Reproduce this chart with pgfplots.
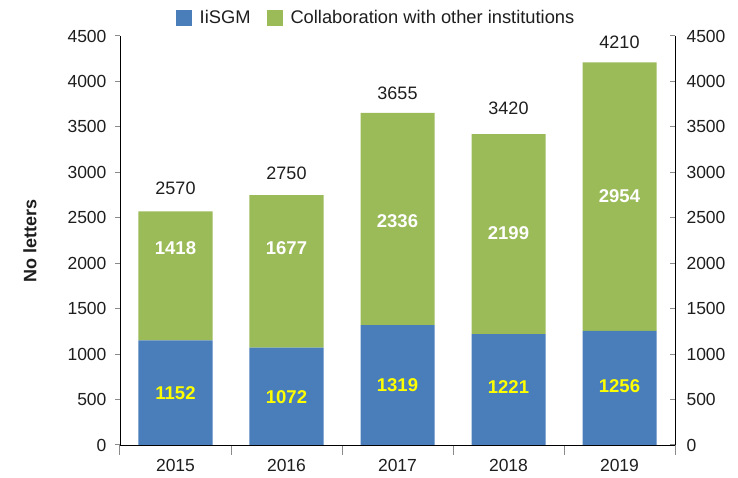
\documentclass[border=0pt]{standalone}
\usepackage{fontspec}
\setmainfont{Liberation Sans}
\usepackage{pgfplots}
\pgfplotsset{compat=1.18}
\definecolor{barblue}{HTML}{4A7EBB}
\definecolor{bargreen}{HTML}{9BBB59}
\definecolor{axgray}{HTML}{8A8A8A}
\definecolor{txt}{HTML}{1E1E1E}
\definecolor{lblyellow}{HTML}{FFFF00}

\begin{document}
\begin{tikzpicture}[font=\fontsize{17.5}{20}\selectfont]
  \begin{axis}[
    name=main,
    scale only axis, width=555pt, height=409pt,
    ybar stacked, bar width=74pt,
    xmin=-0.5, xmax=4.5, ymin=0, ymax=4500,
    axis x line*=bottom, axis y line*=left,
    xtick={0,...,4}, xticklabels={2015,2016,2017,2018,2019},
    major x tick style={draw=none},
    minor xtick={-0.5,0.5,1.5,2.5,3.5,4.5},
    minor tick length=10pt,
    ytick={0,500,...,4500},
    major tick length=5pt,
    tick align=outside,
    every axis line/.style={axgray, line width=1pt},
    tick style={axgray, line width=1pt},
    every tick label/.style={text=txt},
    yticklabel style={xshift=-5pt},
    xticklabel style={yshift=-6pt},
    /pgf/number format/assume math mode=true,
    /pgf/number format/set thousands separator={},
    ylabel={\bfseries No letters},
    every axis y label/.style={at={(rel axis cs:0,0.5)}, rotate=90,
      anchor=center, yshift=90pt, text=txt, font=\fontsize{18}{21}\selectfont},
    legend columns=-1,
    legend style={draw=none, fill=none, at={(0.1,1)}, anchor=west,
      yshift=18pt, inner sep=0pt, text=txt, font=\fontsize{18.3}{21}\selectfont,
      /tikz/every odd column/.append style={column sep=6pt},
      /tikz/every even column/.append style={column sep=14pt}},
    legend image code/.code={\fill[#1,draw=none] (0pt,-8pt) rectangle (16pt,8pt);},
  ]
    \addplot[fill=barblue, draw=none]
      coordinates {(0,1152) (1,1072) (2,1319) (3,1221) (4,1256)};
    \addplot[fill=bargreen, draw=none]
      coordinates {(0,1418) (1,1677) (2,2336) (3,2199) (4,2954)};
    \legend{IiSGM,Collaboration with other institutions}
    \coordinate (sw) at (rel axis cs:0,0);
    \coordinate (ne) at (rel axis cs:1,1);
  \end{axis}
  \begin{axis}[
    scale only axis, width=555pt, height=409pt,
    xmin=-0.5, xmax=4.5, ymin=0, ymax=4500,
    axis x line=none, axis y line*=right,
    ytick={0,500,...,4500},
    major tick length=5pt,
    tick align=inside,
    every axis line/.style={axgray, line width=1pt},
    tick style={axgray, line width=1pt},
    every tick label/.style={text=txt},
    yticklabel style={xshift=8pt},
    /pgf/number format/assume math mode=true,
    /pgf/number format/set thousands separator={},
  ]
    % IiSGM labels
    \addplot[draw=none, mark=none, nodes near coords, point meta=explicit symbolic,
      nodes near coords style={anchor=center, font=\fontsize{18.5}{21}\selectfont\bfseries, text=lblyellow}]
      coordinates {(0,572)[1152] (1,528)[1072] (2,660)[1319] (3,638)[1221] (4,649)[1256]};
    % collaboration labels
    \addplot[draw=none, mark=none, nodes near coords, point meta=explicit symbolic,
      nodes near coords style={anchor=center, font=\fontsize{18.5}{21}\selectfont\bfseries, text=white}]
      coordinates {(0,2167)[1418] (1,2167)[1677] (2,2464)[2336] (3,2332)[2199] (4,2739)[2954]};
    % totals
    \addplot[draw=none, mark=none, nodes near coords, point meta=explicit symbolic,
      nodes near coords style={anchor=center, font=\fontsize{18}{20}\selectfont, text=txt}]
      coordinates {(0,2827)[2570] (1,2992)[2750] (2,3872)[3655] (3,3707)[3420] (4,4433)[4210]};
  \end{axis}
  \pgfresetboundingbox
  \path ([xshift=-120pt,yshift=-33pt]sw) rectangle ([xshift=63pt,yshift=36pt]ne);
\end{tikzpicture}
\end{document}
